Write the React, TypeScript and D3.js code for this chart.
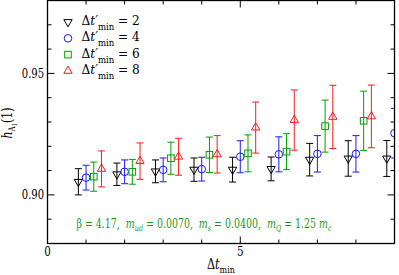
import React from "react";
import * as d3 from "d3";

const W = 399;
const H = 275;

const groups = [1, 2, 3, 4, 5, 6, 7, 8, 9];
const seriesNames = ["2", "4", "6", "8"];
const seriesOffsets = [-0.2, 0, 0.2, 0.4];
const seriesColors = ["#000000", "#1a1aff", "#00a000", "#ff1a1a"];
const seriesShapes = ["triDown", "circle", "square", "triUp"];

const blackVals = [0.9054, 0.9085, 0.9097, 0.9104, 0.9104, 0.9107, 0.9145, 0.915, 0.915];
const blackErrs = [0.0054, 0.0046, 0.0047, 0.0048, 0.0051, 0.0049, 0.0067, 0.0073, 0.0074];
const blueVals = [0.9071, 0.9095, 0.9103, 0.9106, 0.9157, 0.9167, 0.9169, 0.9169, 0.9254];
const blueErrs = [0.0051, 0.0049, 0.0049, 0.0049, 0.0066, 0.0072, 0.0075, 0.0075, 0.0102];
const greenVals = [0.9075, 0.9095, 0.9151, 0.9165, 0.9171, 0.9178, 0.9283, 0.9305];
const greenErrs = [0.006, 0.0051, 0.0066, 0.0073, 0.0076, 0.0074, 0.0107, 0.0122];
const redVals = [0.9107, 0.9139, 0.9157, 0.9167, 0.9277, 0.9308, 0.9321, 0.9323];
const redErrs = [0.0074, 0.0075, 0.0076, 0.0077, 0.0105, 0.0124, 0.013, 0.0129];

const allVals = [blackVals, blueVals, greenVals, redVals];
const allErrs = [blackErrs, blueErrs, greenErrs, redErrs];

const xMajorTicks = [0, 5];
const xMinorTicks = [1, 2, 3, 4, 6, 7, 8];
const yMajorTicks = [0.9, 0.95];
const yMinorTicks = [0.89, 0.91, 0.92, 0.93, 0.94, 0.96, 0.97];

const L = 47.5, R = 394.5, T = 0.5, B = 243.5;
const x = d3.scaleLinear().domain([0, 9]).range([L, R]);
const y = d3.scaleLinear().domain([0.88, 0.98]).range([B, T]);

const FONT = "DejaVu Serif, Liberation Serif, serif";
const SP = "\u00a0";

function Marker({ shape, cx, cy, color }: { shape: string; cx: number; cy: number; color: string }) {
  if (shape === "circle") return <circle cx={cx} cy={cy} r={3.8} fill="none" stroke={color} strokeWidth={1} />;
  if (shape === "square") return <rect x={cx - 3.3} y={cy - 3.3} width={6.6} height={6.6} fill="none" stroke={color} strokeWidth={1} />;
  const sym = d3.symbol().type(d3.symbolTriangle).size(30)();
  const rot = shape === "triDown" ? 180 : 0;
  return <path d={sym as string} transform={`translate(${cx},${cy}) rotate(${rot})`} fill="none" stroke={color} strokeWidth={1} />;
}

export default function App() {
  return (
    <svg width={W} height={H} style={{ position: "absolute", left: 0, top: 0, background: "#fff" }} fontFamily={FONT}>
      <defs>
        <clipPath id="plotclip">
          <rect x={L} y={T} width={R - L} height={B - T} />
        </clipPath>
      </defs>
      <g clipPath="url(#plotclip)">
        {allVals.map((vals, si) =>
          vals.map((v, i) => {
            const cx = x(groups[i] + seriesOffsets[si]);
            const e = allErrs[si][i];
            const y1 = y(v + e), y2 = y(v - e), cy = y(v);
            const c = seriesColors[si];
            return (
              <g key={`${si}-${i}`}>
                <line x1={cx} x2={cx} y1={y1} y2={y2} stroke={c} strokeWidth={1} />
                <line x1={cx - 3.5} x2={cx + 3.5} y1={y1} y2={y1} stroke={c} strokeWidth={1} />
                <line x1={cx - 3.5} x2={cx + 3.5} y1={y2} y2={y2} stroke={c} strokeWidth={1} />
                <Marker shape={seriesShapes[si]} cx={cx} cy={cy} color={c} />
              </g>
            );
          })
        )}
      </g>
      <rect x={L} y={T} width={R - L} height={B - T} fill="none" stroke="#000" strokeWidth={1.3} />
      {xMajorTicks.map((t) => (
        <g key={`xM${t}`}>
          <line x1={x(t)} x2={x(t)} y1={B} y2={B - 7} stroke="#000" />
          <line x1={x(t)} x2={x(t)} y1={T} y2={T + 7} stroke="#000" />
          <g transform={`translate(${x(t)},256) scale(0.82,1)`}>
            <text x={0} y={0} textAnchor="middle" fontSize={12.5}>{t}</text>
          </g>
        </g>
      ))}
      {xMinorTicks.map((t) => (
        <g key={`xm${t}`}>
          <line x1={x(t)} x2={x(t)} y1={B} y2={B - 4} stroke="#000" />
          <line x1={x(t)} x2={x(t)} y1={T} y2={T + 4} stroke="#000" />
        </g>
      ))}
      {yMajorTicks.map((t) => (
        <g key={`yM${t}`}>
          <line x1={L} x2={L + 7} y1={y(t)} y2={y(t)} stroke="#000" />
          <line x1={R} x2={R - 7} y1={y(t)} y2={y(t)} stroke="#000" />
          <g transform={`translate(44,${y(t) + 4.3}) scale(0.8,1)`}>
            <text x={0} y={0} textAnchor="end" fontSize={12.5}>{d3.format(".2f")(t)}</text>
          </g>
        </g>
      ))}
      {yMinorTicks.map((t) => (
        <g key={`ym${t}`}>
          <line x1={L} x2={L + 4} y1={y(t)} y2={y(t)} stroke="#000" />
          <line x1={R} x2={R - 4} y1={y(t)} y2={y(t)} stroke="#000" />
        </g>
      ))}
      <g transform="translate(207,269) scale(0.8,1)">
        <text x={0} y={0} fontSize={14}>
          Δ<tspan fontStyle="italic">t</tspan>
          <tspan fontSize={10} dy={4}>min</tspan>
        </text>
      </g>
      <g transform="translate(12,138.5) rotate(-90) scale(0.78,1)">
        <text x={0} y={0} fontSize={14}>
          <tspan fontStyle="italic">h</tspan>
          <tspan fontSize={9} dy={3}>A</tspan>
          <tspan fontSize={7} dy={2}>1</tspan>
          <tspan dy={-5}>(1)</tspan>
        </text>
      </g>
      {seriesNames.map((n, i) => {
        const cy = 22 + i * 16.3;
        return (
          <g key={`leg${n}`}>
            <Marker shape={seriesShapes[i]} cx={68} cy={cy} color={seriesColors[i]} />
            <g transform={`translate(81.5,${cy + 3}) scale(0.9,1)`}>
              <text x={0} y={0} fontSize={13.5}>
                Δ<tspan fontStyle="italic">t′</tspan>
                <tspan fontSize={9.5} dy={5}>min</tspan>
                <tspan dy={-5}>{SP}={SP}{n}</tspan>
              </text>
            </g>
          </g>
        );
      })}
      <g transform="translate(76.5,228) scale(0.755,1)">
        <text x={0} y={0} fontSize={12.5} fill="#1a9a1a">
          {`β${SP}=${SP}4.17,${SP}${SP}`}
          <tspan fontStyle="italic">m</tspan>
          <tspan fontSize={8.5} dy={2.5} fontStyle="italic">ud</tspan>
          <tspan dy={-2.5}>{`${SP}=${SP}0.0070,${SP}${SP}`}</tspan>
          <tspan fontStyle="italic">m</tspan>
          <tspan fontSize={8.5} dy={2.5} fontStyle="italic">s</tspan>
          <tspan dy={-2.5}>{`${SP}=${SP}0.0400,${SP}${SP}`}</tspan>
          <tspan fontStyle="italic">m</tspan>
          <tspan fontSize={8.5} dy={2.5} fontStyle="italic">Q</tspan>
          <tspan dy={-2.5}>{`${SP}=${SP}1.25${SP}`}</tspan>
          <tspan fontStyle="italic">m</tspan>
          <tspan fontSize={8.5} dy={2.5} fontStyle="italic">c</tspan>
        </text>
      </g>
    </svg>
  );
}
